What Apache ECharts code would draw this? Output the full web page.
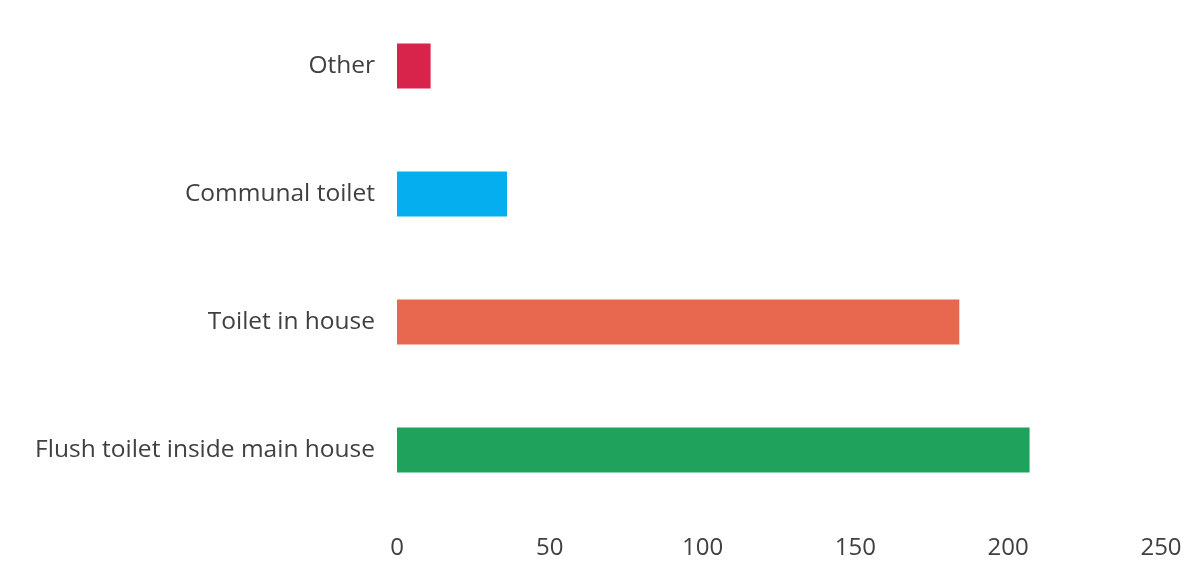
<!DOCTYPE html>
<html>
<head>
<meta charset="utf-8">
<script src="https://cdn.jsdelivr.net/npm/echarts@6/dist/echarts.min.js"></script>
<style>
  html, body { margin: 0; padding: 0; background: #ffffff; }
  #chart { width: 1187px; height: 574px; }
</style>
</head>
<body>
<div id="chart"></div>
<script>
// Toilet facility types, bottom to top
const categories = ['Flush toilet inside main house', 'Toilet in house', 'Communal toilet', 'Other'];
const counts = [207, 184, 36, 11];
const barColors = ['#1FA35C', '#E8674F', '#05AFEF', '#D8234A'];
const xTicks = { min: 0, max: 250, interval: 50 };

const chart = echarts.init(document.getElementById('chart'));
chart.setOption({
  animation: false,
  backgroundColor: '#ffffff',
  grid: { left: 397, right: 26, top: 2, bottom: 60, containLabel: false },
  xAxis: {
    type: 'value',
    min: xTicks.min,
    max: xTicks.max,
    interval: xTicks.interval,
    axisLine: { show: false },
    axisTick: { show: false },
    splitLine: { show: false },
    axisLabel: {
      margin: 22,
      color: '#404040',
      fontSize: 24,
      fontFamily: 'Open Sans'
    }
  },
  yAxis: {
    type: 'category',
    data: categories,
    axisLine: { show: false },
    axisTick: { show: false },
    axisLabel: {
      margin: 22,
      color: '#404040',
      fontSize: 24.5,
      fontFamily: 'Open Sans'
    }
  },
  series: [{
    type: 'bar',
    barWidth: 45,
    data: counts.map((v, i) => ({ value: v, itemStyle: { color: barColors[i] } }))
  }]
});
</script>
</body>
</html>
